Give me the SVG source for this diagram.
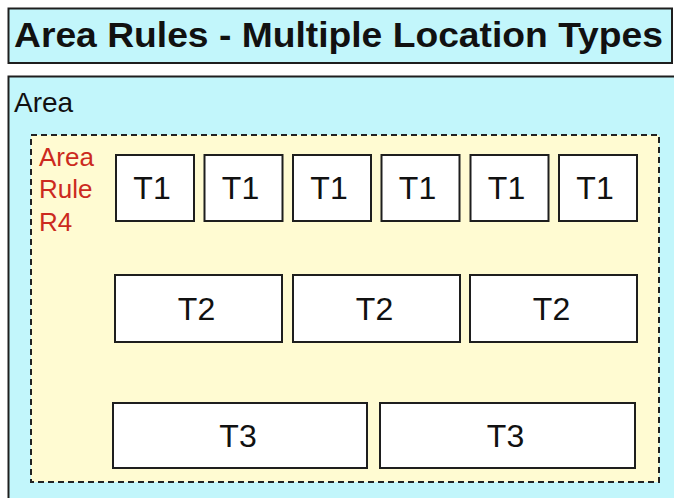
<svg xmlns="http://www.w3.org/2000/svg" width="674" height="498" viewBox="0 0 674 498">
<style>
  .frame { fill: #c2f6fb; stroke: #1e1e1e; stroke-width: 2; }
  .rule { fill: #fffbd2; stroke: #222; stroke-width: 2; stroke-dasharray: 6 4; }
  .loc { fill: #ffffff; stroke: #1e1e1e; stroke-width: 2; }
  .t { font-family: "Liberation Sans", Arial, sans-serif; font-size: 32px; fill: #111; text-anchor: middle; }
  .title { font-family: "Liberation Sans", Arial, sans-serif; font-size: 35px; font-weight: bold; fill: #111; }
  .lbl { font-family: "Liberation Sans", Arial, sans-serif; font-size: 28px; fill: #111; }
  .red { font-family: "Liberation Sans", Arial, sans-serif; font-size: 26px; fill: #cc2a1e; }
</style>
<rect width="674" height="498" fill="#ffffff"/>
<g id="title">
  <rect class="frame" x="8.5" y="8.5" width="663.5" height="54.5"/>
  <text class="title" x="14" y="47" textLength="649" lengthAdjust="spacingAndGlyphs">Area Rules - Multiple Location Types</text>
</g>
<g id="area">
  <rect class="frame" x="8.5" y="76.5" width="700" height="440"/>
  <text class="lbl" x="14" y="111.5">Area</text>
</g>
<g id="rule-r4">
  <rect class="rule" x="31" y="135" width="628" height="347"/>
  <text class="red" x="39" y="166">Area</text>
  <text class="red" x="39" y="198">Rule</text>
  <text class="red" x="39" y="231">R4</text>
</g>
<g id="t1-1"><rect class="loc" x="116" y="155" width="78" height="66"/><text class="t" x="152" y="199">T1</text></g>
<g id="t1-2"><rect class="loc" x="204.5" y="155" width="78" height="66"/><text class="t" x="240.5" y="199">T1</text></g>
<g id="t1-3"><rect class="loc" x="293" y="155" width="78" height="66"/><text class="t" x="329" y="199">T1</text></g>
<g id="t1-4"><rect class="loc" x="381.5" y="155" width="78" height="66"/><text class="t" x="417.5" y="199">T1</text></g>
<g id="t1-5"><rect class="loc" x="470.5" y="155" width="78" height="66"/><text class="t" x="506.5" y="199">T1</text></g>
<g id="t1-6"><rect class="loc" x="559" y="155" width="78" height="66"/><text class="t" x="595" y="199">T1</text></g>
<g id="t2-1"><rect class="loc" x="115" y="275" width="167" height="67"/><text class="t" x="196.5" y="320">T2</text></g>
<g id="t2-2"><rect class="loc" x="293" y="275" width="167" height="67"/><text class="t" x="374.5" y="320">T2</text></g>
<g id="t2-3"><rect class="loc" x="470" y="275" width="167" height="67"/><text class="t" x="551.5" y="320">T2</text></g>
<g id="t3-1"><rect class="loc" x="113" y="403" width="254" height="65"/><text class="t" x="238" y="447">T3</text></g>
<g id="t3-2"><rect class="loc" x="380" y="403" width="255" height="65"/><text class="t" x="505.5" y="447">T3</text></g>
<g id="connectors"></g>
</svg>
